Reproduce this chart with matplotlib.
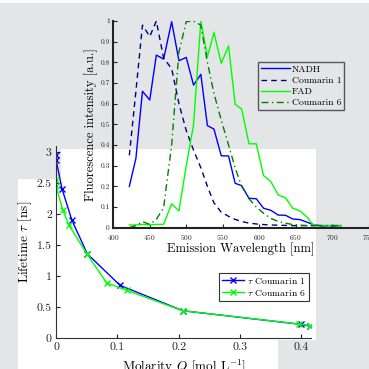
import matplotlib
matplotlib.use('Agg')
import matplotlib.pyplot as plt
from matplotlib.patches import Rectangle

plt.rcParams['font.family'] = 'serif'
plt.rcParams['font.serif'] = ['cmr10']
plt.rcParams['mathtext.fontset'] = 'cm'
plt.rcParams['axes.formatter.use_mathtext'] = True

# lifetime vs molarity
q_c1 = [0, 0, 0.0098, 0.026, 0.051, 0.1045, 0.207, 0.40, 0.415]
tau_c1 = [2.96, 2.88, 2.41, 1.90, 1.36, 0.85, 0.44, 0.22, 0.19]
q_c6 = [0, 0, 0.011, 0.0207, 0.051, 0.0827, 0.1154, 0.207, 0.397, 0.415]
tau_c6 = [2.55, 2.45, 2.07, 1.83, 1.35, 0.89, 0.77, 0.44, 0.226, 0.20]

# emission spectra
wl = [422, 431, 440, 450, 459, 469, 480, 490, 500, 510, 520, 529, 538, 548, 558,
      567, 576, 586, 596, 606, 616, 626, 636, 646, 656, 666, 673, 683, 693, 703, 712]
nadh = [0.20, 0.335, 0.66, 0.618, 0.835, 0.816, 0.997, 0.808, 0.824, 0.69, 0.742,
        0.494, 0.477, 0.348, 0.347, 0.215, 0.203, 0.142, 0.14, 0.094, 0.084, 0.061,
        0.06, 0.042, 0.039, 0.026, 0.016, 0.01, 0.01, 0.01, 0.01]
coum1 = [0.35, 0.66, 0.98, 0.925, 1.0, 0.82, 0.77, 0.60, 0.47, 0.375, 0.29, 0.20,
         0.12, 0.075, 0.055, 0.04, 0.03, 0.022, 0.018, 0.015, 0.013, 0.012, 0.011,
         0.01, 0.01, 0.01, 0.01, 0.009, 0.009, 0.009, 0.009]
fad = [0.013, 0.013, 0.016, 0.013, 0.016, 0.016, 0.116, 0.081, 0.30, 0.497, 1.0,
       0.827, 0.945, 0.795, 0.88, 0.597, 0.574, 0.406, 0.406, 0.252, 0.223, 0.158,
       0.145, 0.094, 0.081, 0.05, 0.016, 0.01, 0.01, 0.01, 0.01]
coum6 = [0.0, 0.01, 0.029, 0.016, 0.04, 0.097, 0.40, 0.85, 0.997, 1.0, 0.98, 0.80,
         0.65, 0.52, 0.40, 0.29, 0.20, 0.14, 0.10, 0.07, 0.045, 0.03, 0.022, 0.015,
         0.012, 0.01, 0.01, 0.01, 0.01, 0.01, 0.01]

bg = '#e4e5e7'
fig = plt.figure(figsize=(3.69, 3.69), dpi=100, facecolor=bg)
# white patches of the screenshot
for r in [(0.1653, 0.0786, 0.691, 0.5176), (0.0488, 0.0, 0.7046, 0.515), (0, 0.992, 1, 0.008)]:
    fig.patches.append(Rectangle(r[:2], r[2], r[3], transform=fig.transFigure,
                                 facecolor='white', edgecolor='none', zorder=-5))

ax = fig.add_axes([0.1518, 0.084, 0.691, 0.520])
ax.set_facecolor('none')
ax.plot(q_c1, tau_c1, color='#0000ff', marker='x', ms=4, mew=1, lw=1.0, label=r'$\tau$ Coumarin 1')
ax.plot(q_c6, tau_c6, color='#00ff00', marker='x', ms=4, mew=1, lw=1.0, label=r'$\tau$ Coumarin 6')
ax.set_xlim(0, 0.416)
ax.set_ylim(0, 3.1)
ax.set_xticks([0, 0.1, 0.2, 0.3, 0.4])
ax.set_yticks([0, 0.5, 1, 1.5, 2, 2.5, 3])
ax.set_xticklabels(['0', '0.1', '0.2', '0.3', '0.4'])
ax.set_yticklabels(['0', '0.5', '1', '1.5', '2', '2.5', '3'])
ax.tick_params(direction='in', length=3, labelsize=8.5, pad=3, colors='#222222')
for s in ['top', 'right']:
    ax.spines[s].set_visible(False)
for s in ['left', 'bottom']:
    ax.spines[s].set_color('#333333')
ax.set_ylabel(r'Lifetime $\tau$ [ns]', fontsize=9.5, labelpad=2)
ax.set_xlabel(r'Molarity $Q$ [mol L$^{-1}$]', fontsize=9.5, labelpad=4)
lg = ax.legend(loc='upper right', bbox_to_anchor=(0.992, 0.339), borderaxespad=0,
               fontsize=7, fancybox=False, edgecolor='#333333', framealpha=1,
               handlelength=2.3, borderpad=0.3, labelspacing=0.2, handletextpad=0.3)
lg.get_frame().set_linewidth(0.8)

ins = fig.add_axes([0.307, 0.383, 0.692, 0.560])
ins.set_facecolor('none')
ins.plot(wl, nadh, color='#0000ff', lw=1.0, label='NADH')
ins.plot(wl, coum1, color='#000080', lw=1.0, ls=(0, (4, 3)), label='Coumarin 1')
ins.plot(wl, fad, color='#00ff00', lw=1.0, label='FAD')
ins.plot(wl, coum6, color='#007f00', lw=1.0, ls=(0, (5, 2.5, 1, 2.5)), label='Coumarin 6')
ins.set_xlim(400, 750)
ins.set_ylim(0, 1)
ins.set_xticks(range(400, 751, 50))
ins.set_yticks([0, 0.1, 0.2, 0.3, 0.4, 0.5, 0.6, 0.7, 0.8, 0.9, 1])
ins.set_yticklabels(['0', '0.1', '0.2', '0.3', '0.4', '0.5', '0.6', '0.7', '0.8', '0.9', '1'])
ins.tick_params(direction='in', length=3, labelsize=5.3, colors='#222222')
ins.tick_params(axis='x', pad=3.5)
ins.tick_params(axis='y', pad=2.5)
for s in ['top', 'right']:
    ins.spines[s].set_visible(False)
for s in ['left', 'bottom']:
    ins.spines[s].set_linewidth(1.5)
    ins.spines[s].set_color('#222222')
ins.set_ylabel('Fluorescence intensity [a.u.]', fontsize=9, labelpad=2)
ins.set_xlabel('Emission Wavelength [nm]', fontsize=9, labelpad=0.5)
lg2 = ins.legend(loc='upper right', bbox_to_anchor=(0.904, 0.802), borderaxespad=0,
                 fontsize=7, fancybox=False, edgecolor='#333333', facecolor='none',
                 framealpha=None, handlelength=3.0, borderpad=0.3, labelspacing=0.25,
                 handletextpad=0.15)
lg2.get_frame().set_linewidth(1.0)

fig.savefig('out.png', dpi=100, facecolor=bg)
